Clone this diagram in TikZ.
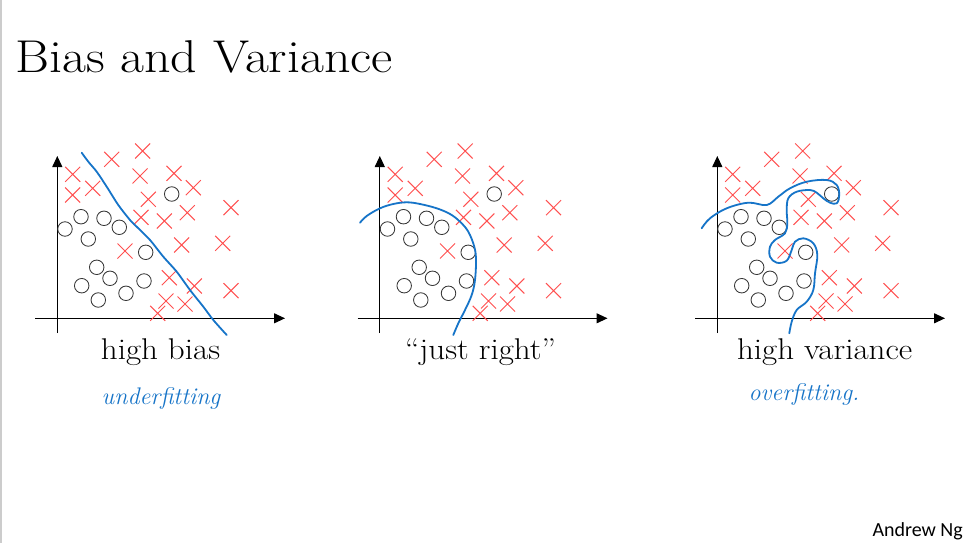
\documentclass[tikz,border=0pt]{standalone}
\usepackage{fontspec}
\usepackage{graphicx}
\newfontfamily\andrewfont{Carlito}
\usetikzlibrary{arrows.meta,shapes.misc}
\definecolor{penblue}{RGB}{22,116,200}
\definecolor{xred}{RGB}{255,80,80}
\definecolor{ogray}{RGB}{55,55,55}
\newcommand\drawdataset[1]{%
  \draw[axis] (57.3,333) -- (57.3,156);
  \draw[axis] (35,318.3) -- (285,318.3);
  \foreach \px/\py [count=\k] in {72.7/174.3, 72.7/195, 92.7/188.3, 111.7/159.3, 142.7/151, 140/176, 174/173.3, 193.3/187.7, 148.3/199.3, 141/217.3, 164.3/221, 187.3/212.7, 231/207.7, 125/251, 181.7/245, 222.7/243.3, 169.3/277.7, 194.3/286, 231/290.7, 166/301, 185/304, 157.7/313.3}
    \node[xmark] (#1x\k) at (\px,\py) {};
  \foreach \px/\py [count=\k] in {171.7/194, 81/216.7, 104/218.3, 119.3/227.3, 65/229, 88.3/239, 145.7/252.3, 96.7/267.3, 110/278.3, 81.7/285.7, 144/281, 126/293.3, 98.3/300}
    \node[omark] (#1o\k) at (\px,\py) {};
}
\begin{document}
\begin{tikzpicture}[x=1pt,y=-1pt,
  xmark/.style={cross out,draw=xred,line width=1pt,minimum size=14pt,inner sep=0pt},
  omark/.style={circle,draw=ogray,line width=0.85pt,minimum size=14.5pt,inner sep=0pt},
  axis/.style={line width=1.1pt,-{Triangle[length=11pt,width=10pt]}},
  fitcurve/.style={penblue,line width=1.8pt,line cap=round,line join=round},
  caption/.style={font=\fontsize{30}{36}\selectfont,inner sep=0pt,anchor=base},
  hand/.style={penblue,font=\fontsize{24}{28}\selectfont\itshape,inner sep=0pt,anchor=base}]
\useasboundingbox (0,0) rectangle (966,543);
\fill[white] (0,0) rectangle (966,543);
\draw[black!20,line width=1.5pt] (0.75,0) -- (0.75,543);
\node[font=\fontsize{46}{54}\selectfont,inner sep=0pt,anchor=base west] (title) at (15,73) {\scalebox{1.13}[1]{Bias and Variance}};

% plot 1
\begin{scope}
  \drawdataset{a}
\end{scope}
\draw[fitcurve] plot[smooth,tension=0.5] coordinates {(81.7,152.7) (88.3,161.7) (96.7,171.7) (106.7,186.7) (118.3,205) (130,220) (137,227) (150,240) (163.3,256.7) (176.7,271.7) (190,290) (203.3,306.7) (213.3,320) (226.7,335)};
\node[caption] (cap1) at (160.5,359) {\scalebox{1.1}[1]{high bias}};
\node[hand] (hand1) at (161,404) {underfitting};

% plot 2
\begin{scope}[xshift=322.5pt]
  \drawdataset{b}
\end{scope}
\draw[fitcurve] plot[smooth,tension=0.6] coordinates {(360,222.7) (366.7,216) (380,208.3) (393.3,204) (406.7,202.3) (420,204) (436.7,208.3) (450,214) (460,221.7) (468.3,231.7) (474.3,246.7) (476,260) (475,280) (471.7,295) (465,310) (458.3,323.3) (453.3,335)};
\node[caption] (cap2) at (480.5,359) {\scalebox{1.1}[1]{“just right”}};

% plot 3
\begin{scope}[xshift=660pt]
  \drawdataset{c}
\end{scope}
\draw[fitcurve] plot[smooth,tension=0.6] coordinates {(701.7,228.3) (710,218.3) (726.7,208.3) (748.3,202.7) (766.7,205) (778.3,196.7) (790,188.3) (806.7,181.7) (826.7,180) (836.7,185) (839.3,195) (836.7,203.3) (830,202.7) (823.3,198.3) (816.7,192.7) (810,190) (796.7,191.7) (788.3,198.3) (786.7,210) (787.3,223.3) (785,233.3) (775,240) (770,246.7) (770,256.7) (776.7,262.7) (786.7,260.7) (791.7,250) (795,241.7) (803.3,238.3) (813.3,243.3) (817.3,255) (815,273.3) (813.3,290) (806.7,301.7) (796.7,310) (791.7,321.7) (789.3,333.3)};
\node[caption] (cap3) at (824.7,359) {\scalebox{1.1}[1]{high variance}};
\node[hand] (hand3) at (804,400) {overfitting.};

\node[font=\andrewfont\fontsize{20}{24}\selectfont,inner sep=0pt,anchor=base east] (author) at (963,536) {Andrew Ng};
\end{tikzpicture}
\end{document}
